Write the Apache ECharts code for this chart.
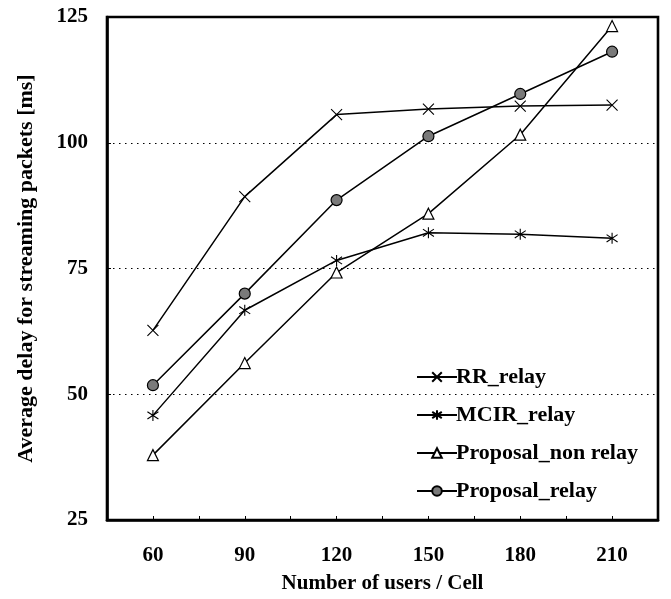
<!DOCTYPE html>
<html>
<head>
<meta charset="utf-8">
<script src="https://cdn.jsdelivr.net/npm/echarts@6/dist/echarts.min.js"></script>
<style>
html,body{margin:0;padding:0;background:#fff;}
#chart{width:671px;height:599px;}
</style>
</head>
<body>
<div id="chart"></div>
<script>
// ---- data ----
const users = [60, 90, 120, 150, 180, 210];
const xTickLabels = [60, 90, 120, 150, 180, 210];
const yTickLabels = [25, 50, 75, 100, 125];
const seriesNames = ['RR_relay', 'MCIR_relay', 'Proposal_non relay', 'Proposal_relay'];
const rrRelay = [62.7, 89.3, 105.6, 106.7, 107.3, 107.5];
const mcirRelay = [45.8, 66.7, 76.6, 82.1, 81.8, 81.0];
const proposalNonRelay = [37.9, 56.2, 74.2, 85.9, 101.6, 123.2];
const proposalRelay = [51.8, 70.0, 88.6, 101.3, 109.7, 118.1];

const FONT = '"Liberation Serif", "Times New Roman", serif';
const pairs = (ys) => users.map((x, i) => [x, ys[i]]);

const crossPath = 'path://M0,0L10,10M10,0L0,10';
const starPath = 'path://M0,1L10,9M10,1L0,9M5,-1L5,11';

function mkSeries(name, ys, symbol, size, fill, bw) {
  return {
    name: name,
    type: 'line',
    data: pairs(ys),
    symbol: symbol,
    symbolSize: size,
    showAllSymbol: true,
    color: '#000',
    lineStyle: { color: '#000', width: 1.5 },
    itemStyle: { color: fill, borderColor: '#000', borderWidth: bw },
    emphasis: { disabled: true },
    animation: false,
    z: 3
  };
}

const chart = echarts.init(document.getElementById('chart'), null, { renderer: 'canvas' });
chart.setOption({
  backgroundColor: '#fff',
  animation: false,
  grid: {
    left: 107, right: 13, top: 17, bottom: 78,
    show: true, borderColor: '#000', borderWidth: 2.6, backgroundColor: 'transparent'
  },
  legend: {
    orient: 'vertical',
    left: 411,
    top: 361,
    itemWidth: 40,
    itemHeight: 12,
    itemGap: 16,
    data: seriesNames,
    textStyle: { fontFamily: FONT, fontWeight: 'bold', fontSize: 22, color: '#000', lineHeight: 22, padding: [0, 0, 0, -6] },
    selectedMode: false
  },
  xAxis: {
    type: 'value',
    min: 45, max: 225, interval: 15,
    name: 'Number of users / Cell',
    nameLocation: 'middle',
    nameGap: 53,
    nameTextStyle: { fontFamily: FONT, fontWeight: 'bold', fontSize: 21, color: '#000' },
    axisLine: { show: true, lineStyle: { color: '#000', width: 2.6 } },
    axisTick: { show: true, inside: true, length: 4, lineStyle: { color: '#000', width: 1 } },
    axisLabel: {
      margin: 25,
      fontFamily: FONT, fontWeight: 'bold', fontSize: 21, color: '#000',
      formatter: (v) => xTickLabels.indexOf(v) >= 0 ? String(v) : ''
    },
    splitLine: { show: false }
  },
  yAxis: {
    type: 'value',
    min: 25, max: 125, interval: 25,
    name: 'Average delay for streaming packets [ms]',
    nameLocation: 'middle',
    nameGap: 70,
    nameTextStyle: { fontFamily: FONT, fontWeight: 'bold', fontSize: 22, color: '#000' },
    axisLine: { show: true, lineStyle: { color: '#000', width: 2.6 } },
    axisTick: { show: true, inside: true, length: 4, lineStyle: { color: '#000', width: 1 } },
    axisLabel: {
      margin: 19,
      fontFamily: FONT, fontWeight: 'bold', fontSize: 21, color: '#000',
      formatter: (v) => yTickLabels.indexOf(v) >= 0 ? String(v) : ''
    },
    splitLine: { show: true, lineStyle: { color: '#000', width: 1, type: [1.5, 4.5] } }
  },
  series: [
    mkSeries(seriesNames[0], rrRelay, crossPath, 11, '#000', 1.1),
    mkSeries(seriesNames[1], mcirRelay, starPath, 11, '#000', 1.1),
    mkSeries(seriesNames[2], proposalNonRelay, 'triangle', 11, '#fff', 1.2),
    mkSeries(seriesNames[3], proposalRelay, 'circle', 11, '#7a7a7a', 1.2)
  ]
});
</script>
</body>
</html>
